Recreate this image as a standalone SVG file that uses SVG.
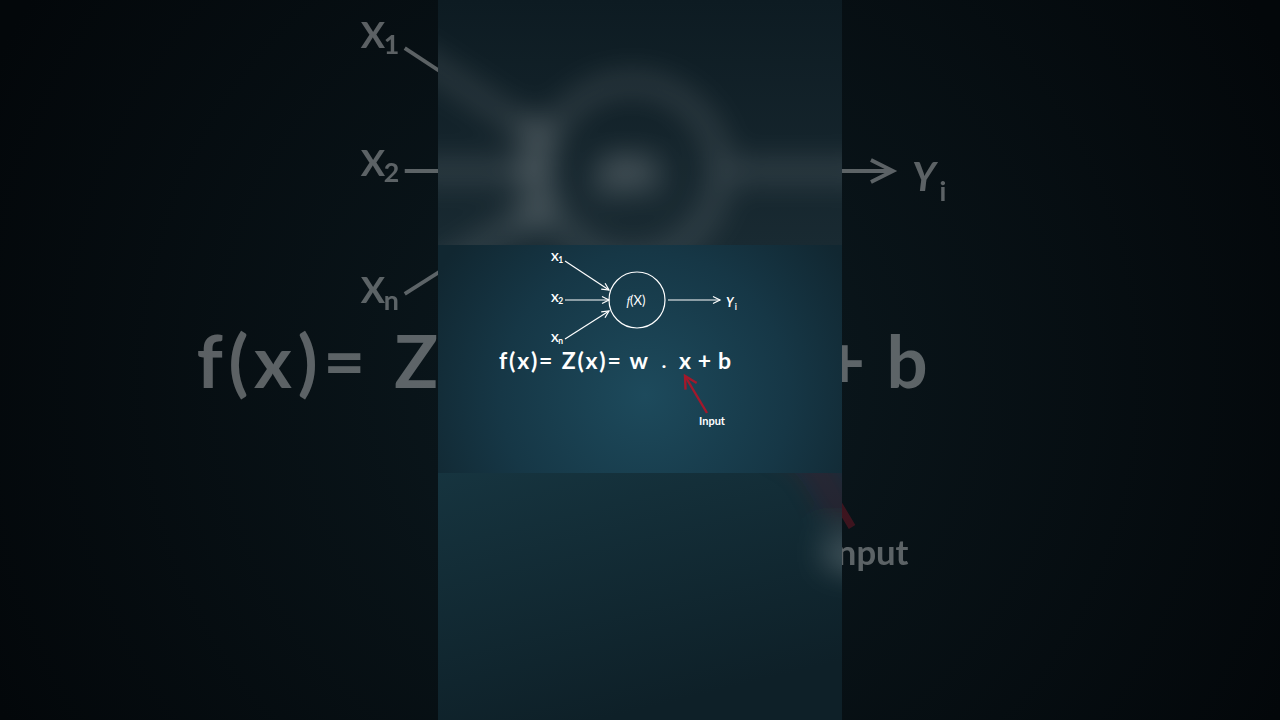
<svg xmlns="http://www.w3.org/2000/svg" xmlns:xlink="http://www.w3.org/1999/xlink" width="1280" height="720" viewBox="0 0 1280 720">
<defs>
<style>
.lbl{font-family:Lato,"Open Sans","Liberation Sans",sans-serif;font-weight:bold;fill:#ffffff}
.ln{stroke:#ffffff;stroke-width:1.2;fill:none}
.red{stroke:#a3182b;stroke-width:2.4;fill:none}
</style>
<marker id="ah" markerWidth="12" markerHeight="12" refX="9" refY="6" orient="auto" markerUnits="userSpaceOnUse">
<path d="M2,2.5 L9,6 L2,9.5" fill="none" stroke="#ffffff" stroke-width="1.2"/>
</marker>
<marker id="ahr" markerWidth="20" markerHeight="20" refX="15" refY="10" orient="auto" markerUnits="userSpaceOnUse">
<path d="M3,3.5 L15,10 L3,16.5" fill="none" stroke="#a3182b" stroke-width="2.4"/>
</marker>
<radialGradient id="bgSide" cx="640" cy="380" r="720" gradientUnits="userSpaceOnUse">
<stop offset="0" stop-color="#0c1a20"/><stop offset="1" stop-color="#03070a"/>
</radialGradient>
<radialGradient id="bgMid" cx="645" cy="395" r="240" gradientUnits="userSpaceOnUse">
<stop offset="0" stop-color="#1d4a5c"/><stop offset="0.6" stop-color="#163746"/><stop offset="1" stop-color="#112731"/>
</radialGradient>
<linearGradient id="bgTop" x1="0" y1="0" x2="0" y2="1">
<stop offset="0" stop-color="#0d1b22"/><stop offset="1" stop-color="#192a32"/>
</linearGradient>
<linearGradient id="bgBot" x1="0" y1="0" x2="0.4" y2="1">
<stop offset="0" stop-color="#16343f"/><stop offset="1" stop-color="#0e2028"/>
</linearGradient>
<filter id="blur" x="-30%" y="-30%" width="160%" height="160%"><feGaussianBlur stdDeviation="16"/></filter>
<clipPath id="sides"><rect x="0" y="0" width="438" height="720"/><rect x="842" y="0" width="438" height="720"/></clipPath>
<clipPath id="col"><rect x="438" y="0" width="404" height="245"/><rect x="438" y="473" width="404" height="247"/></clipPath>
</defs>

<rect x="0" y="0" width="1280" height="720" fill="url(#bgSide)"/>
<rect x="438" y="0" width="404" height="245" fill="url(#bgTop)"/>
<rect x="438" y="473" width="404" height="247" fill="url(#bgBot)"/>

<g clip-path="url(#sides)" opacity="0.34">
<use xlink:href="#diagram" href="#diagram" transform="matrix(3.15 0 0 3.15 -1375 -774)"/>
</g>
<g clip-path="url(#col)" opacity="0.7">
<g filter="url(#blur)">
<use xlink:href="#diagram" href="#diagram" transform="matrix(3.15 0 0 3.15 -1375 -774)"/>
</g>
</g>

<rect x="438" y="245" width="404" height="228" fill="url(#bgMid)"/>

<g id="diagram">
<g id="connectors">
<line class="ln" x1="565" y1="261" x2="609" y2="290" marker-end="url(#ah)"/>
<line class="ln" x1="565" y1="300" x2="609" y2="300" marker-end="url(#ah)"/>
<line class="ln" x1="565" y1="339" x2="609" y2="311" marker-end="url(#ah)"/>
<line class="ln" x1="668" y1="300" x2="720" y2="300" marker-end="url(#ah)"/>
<line class="red" x1="707" y1="413" x2="685" y2="376" marker-end="url(#ahr)"/>
</g>
<g id="x1"><text class="lbl" x="551" y="261" font-size="11.5">X</text><text class="lbl" x="558.3" y="263" font-size="8.5">1</text></g>
<g id="x2"><text class="lbl" x="551" y="301.5" font-size="11.5">X</text><text class="lbl" x="558.3" y="303.5" font-size="8.5">2</text></g>
<g id="xn"><text class="lbl" x="551" y="342" font-size="11.5">X</text><text class="lbl" x="558.3" y="344" font-size="8.5">n</text></g>
<g id="neuron">
<circle cx="637" cy="300" r="28" fill="none" stroke="#ffffff" stroke-width="1.2"/>
<text x="636" y="305" font-size="13" text-anchor="middle" fill="#ffffff" font-family="Lato,'Liberation Sans',sans-serif"><tspan font-family="'Liberation Serif',serif" font-style="italic">f</tspan>(X)</text>
</g>
<g id="yi"><text class="lbl" x="726" y="306.5" font-size="12.5" font-style="italic">Y</text><text class="lbl" x="734.8" y="309.5" font-size="8.5">i</text></g>
<g id="equation">
<text class="lbl" x="499" y="369" font-size="23" textLength="149" lengthAdjust="spacing">f(x)= Z(x)= w</text>
<text class="lbl" x="664" y="370.5" font-size="16" text-anchor="middle">·</text>
<text class="lbl" x="679" y="369" font-size="23" textLength="52" lengthAdjust="spacing">x + b</text>
</g>
<g id="input"><text class="lbl" x="699" y="425" font-size="11">Input</text></g>
</g>
</svg>
